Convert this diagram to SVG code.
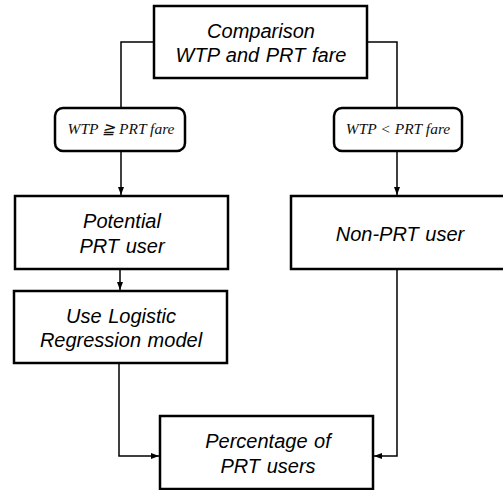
<svg xmlns="http://www.w3.org/2000/svg" width="503" height="490" viewBox="0 0 503 490">
<style>
.box{fill:#fff;stroke:#000;stroke-width:2.5}
.lbl{fill:#fff;stroke:#000;stroke-width:2.5}
.t{font-family:"Liberation Sans","Noto Sans",sans-serif;font-style:italic;font-size:20px;text-anchor:middle;fill:#000;word-spacing:1px}
.m{font-family:"Liberation Serif","DejaVu Serif",serif;font-style:italic;font-size:15.5px;text-anchor:middle;fill:#111}
.c{fill:none;stroke:#000;stroke-width:1.5}
</style>
<defs>
<marker id="ah" viewBox="0 0 8 8" refX="8" refY="4" markerWidth="8" markerHeight="8" markerUnits="userSpaceOnUse" orient="auto">
<path d="M0,1 L8,4 L0,7 Z" fill="#000"/>
</marker>
</defs>
<g id="connectors">
<polyline class="c" points="154,42 121,42 121,108"/>
<polyline class="c" points="367,42 397,42 397,108"/>
<line class="c" x1="121" y1="151" x2="121" y2="195" marker-end="url(#ah)"/>
<line class="c" x1="397" y1="151" x2="397" y2="195" marker-end="url(#ah)"/>
<line class="c" x1="120" y1="269" x2="120" y2="290" marker-end="url(#ah)"/>
<polyline class="c" points="119,363 119,456 159,456" marker-end="url(#ah)"/>
<polyline class="c" points="397,269 397,456 374,456" marker-end="url(#ah)"/>
</g>
<g id="comparison">
<rect class="box" x="154" y="6" width="213" height="72"/>
<text class="t" x="261" y="38">Comparison</text>
<text class="t" x="261" y="62">WTP and PRT fare</text>
</g>
<g id="cond-ge">
<rect class="lbl" x="55" y="108" width="130" height="43" rx="8"/>
<text class="m" x="121" y="134">WTP ≧ PRT fare</text>
</g>
<g id="cond-lt">
<rect class="lbl" x="334" y="108" width="128" height="43" rx="8"/>
<text class="m" x="398" y="134">WTP &lt; PRT fare</text>
</g>
<g id="potential">
<rect class="box" x="15" y="196" width="213" height="73"/>
<text class="t" x="122" y="228">Potential</text>
<text class="t" x="122" y="253">PRT user</text>
</g>
<g id="nonprt">
<rect class="box" x="291" y="196" width="215" height="73"/>
<text class="t" x="400" y="241">Non-PRT user</text>
</g>
<g id="logistic">
<rect class="box" x="14" y="291" width="213" height="72"/>
<text class="t" x="121" y="323">Use Logistic</text>
<text class="t" x="121" y="347">Regression model</text>
</g>
<g id="percentage">
<rect class="box" x="160" y="416" width="213" height="73"/>
<text class="t" x="268" y="448">Percentage of</text>
<text class="t" x="268" y="473">PRT users</text>
</g>
</svg>
